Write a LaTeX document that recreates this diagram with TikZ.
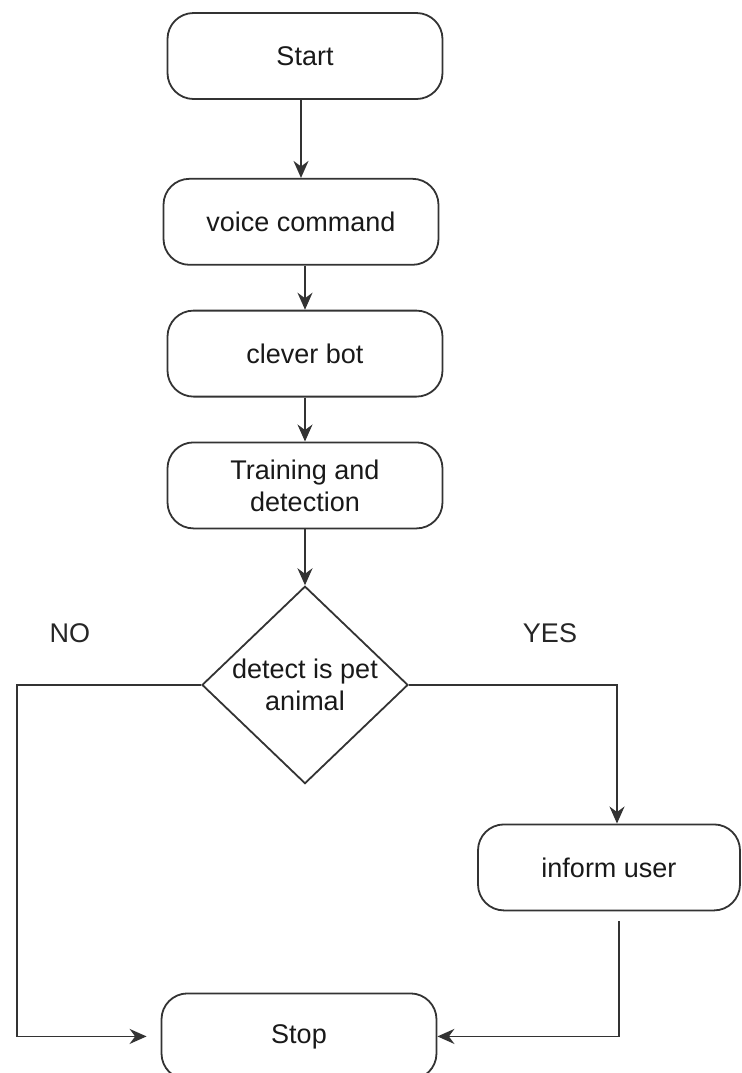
\documentclass[tikz,border=0pt]{standalone}
\usepackage{fontspec}
\setmainfont{Liberation Sans}
\usetikzlibrary{arrows.meta,positioning,shapes.geometric,calc}

\begin{document}
\begin{tikzpicture}[
  node distance=22pt,
  box/.style={rectangle, draw=black!80, line width=0.9pt, rounded corners=13pt, minimum width=137.5pt, minimum height=43pt, align=center, text=black!90, font=\fontsize{13.5}{16}\selectfont},
  decision/.style={diamond, draw=black!80, line width=0.9pt, minimum width=103pt, minimum height=96pt, inner sep=0pt, align=center, text=black!90, font=\fontsize{13.5}{16}\selectfont},
  lbl/.style={text=black!85, font=\fontsize{13.5}{16}\selectfont},
  arrow/.style={->, >={Stealth[length=8.5pt,width=7.5pt]}, draw=black!80, line width=0.9pt}
]
\useasboundingbox (0,0) rectangle (370.5pt,-536.5pt);

\node[box] (start) at (152.5pt,-28pt) {Start};
\node[box, below=39pt of start, xshift=-2pt] (voice) {voice command};
\node[box, below=of voice, xshift=2pt] (clever) {clever bot};
\node[box, below=of clever] (train) {Training and\\detection};
\node[decision, below=28pt of train] (detect) {detect is pet\\animal};
\node[box, below=19.5pt of detect, xshift=152pt, minimum width=131pt] (inform) {inform user};
\node[box, below=104pt of detect, xshift=-3pt] (stop) {Stop};

\node[lbl] (nolbl) at (35pt,-316.5pt) {NO};
\node[lbl] (yeslbl) at (275pt,-316.5pt) {YES};
\coordinate (nocorner) at (8.5pt,0 |- stop.west);

\draw[arrow] (start.south -| voice.north) -- (voice.north);
\draw[arrow] (voice.south -| clever.north) -- (clever.north);
\draw[arrow] (clever) -- (train);
\draw[arrow] (train) -- (detect);
\draw[arrow] (detect.east) -| ([xshift=4pt]inform.north);
\draw[arrow, shorten >=7pt] (detect.west) -| (nocorner) -- (stop.west);
\draw[arrow] ([xshift=5pt,yshift=-5pt]inform.south) |- (stop.east);

\end{tikzpicture}
\end{document}
